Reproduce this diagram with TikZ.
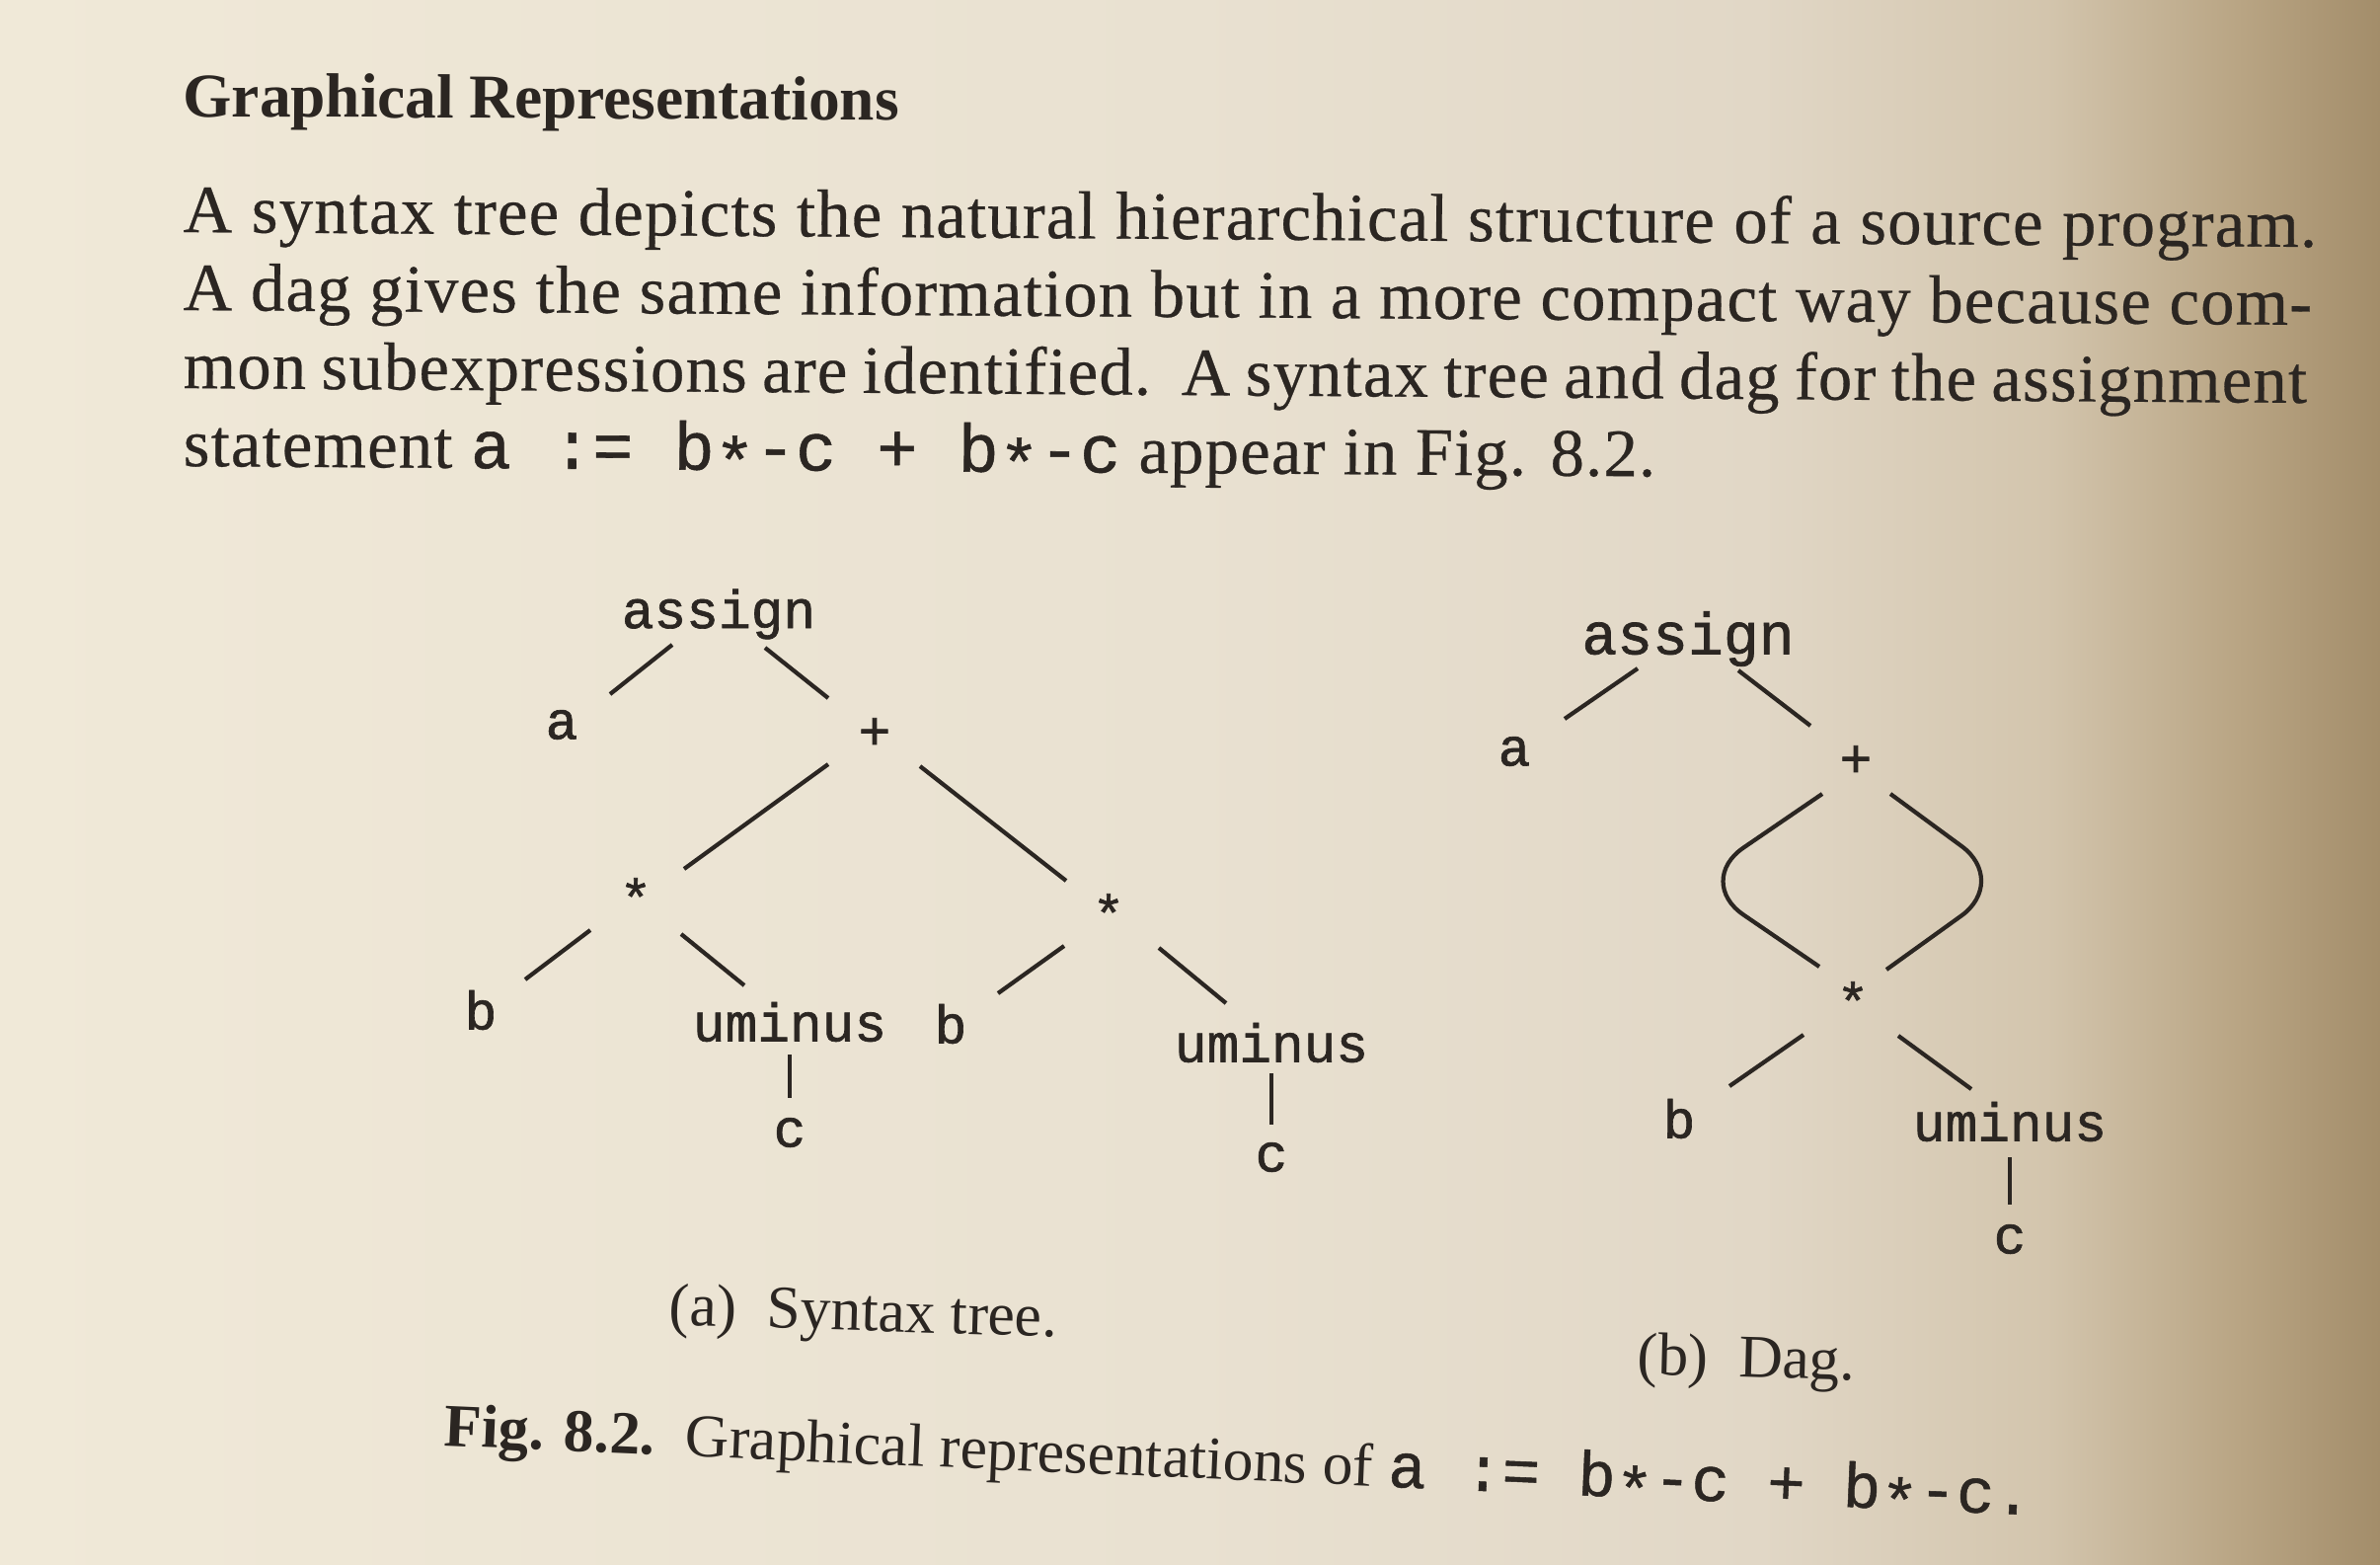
\documentclass[tikz,border=0pt]{standalone}
\usepackage{fontspec}
\setmainfont{Liberation Serif}
\setmonofont{Liberation Mono}[FakeBold=0.6]
\newfontfamily\bodyfont{Liberation Serif}[LetterSpace=1.8, FakeBold=0.4]
\newfontfamily\bodymono{Liberation Mono}[FakeBold=0.8]
\newfontfamily\treefont{Liberation Mono}[FakeBold=1.2]
\usetikzlibrary{calc}
\newcommand{\midstar}{\raisebox{-0.22em}{*}}
\definecolor{inkc}{HTML}{2B2622}
\definecolor{pagelight}{HTML}{F0E9D8}
\definecolor{pagemid}{HTML}{E9E1D1}
\definecolor{pagegrey}{HTML}{E1D7C6}
\definecolor{pagetan}{HTML}{D3C5AD}
\definecolor{pagebrown}{HTML}{B9A584}
\definecolor{pageedge}{HTML}{A38D6A}
\pgfdeclarehorizontalshading{pagetone}{100bp}{color(0bp)=(pagelight); color(25bp)=(pagelight);
  color(50bp)=(pagemid); color(62bp)=(pagegrey); color(68bp)=(pagetan);
  color(72bp)=(pagebrown); color(75bp)=(pageedge); color(100bp)=(pageedge)}
\tikzset{
  headtext/.style={font=\fontsize{18}{21}\selectfont\bfseries, anchor=base west},
  bodytext/.style={font=\bodyfont\fontsize{19.5}{23}\selectfont, anchor=base west},
  captext/.style={font=\fontsize{17.5}{21}\selectfont, anchor=base west},
  tlabel/.style={font=\treefont\fontsize{15.5}{18}\selectfont},
  edge/.style={draw=inkc, line width=1.2pt},
}

\begin{document}
\begin{tikzpicture}[x=0.01cm, y=-0.01cm, every node/.style={text=inkc, inner sep=0pt}]
  \useasboundingbox (0,0) rectangle (2411,1584);
  \shade[shading=pagetone] (0,0) rectangle (2411,1584);

  %% Heading and paragraph
  \node[headtext, rotate=-0.3] (head) at (185,118) {Graphical Representations};
  \node[bodytext, rotate=-0.4] (line1) at (185,235)
    {\makebox[21.6cm][s]{A syntax tree depicts the natural hierarchical structure of a source program.}};
  \node[bodytext, rotate=-0.4] (line2) at (185,314)
    {\makebox[21.55cm][s]{A dag gives the same information but in a more compact way because com-}};
  \node[bodytext, rotate=-0.4] (line3) at (185,393)
    {\makebox[21.5cm][s]{mon subexpressions are identified.\ \ A syntax tree and dag for the assignment}};
  \node[bodytext, rotate=-0.4] (line4) at (185,472)
    {statement {\bodymono a :=~b\midstar-c + b\midstar-c} appear in Fig. 8.2.};

  %% (a) Syntax tree
  \node[tlabel] (aroot)  at (728,622)  {assign};
  \node[tlabel] (aleaf)  at (569,734)  {a};
  \node[tlabel] (aplus)  at (886,743)  {+};
  \node[tlabel] (astarl) at (644,909)  {*};
  \node[tlabel] (astarr) at (1123,925) {*};
  \node[tlabel] (abl)    at (487,1023) {b};
  \node[tlabel] (auml)   at (800,1035) {uminus};
  \node[tlabel] (abr)    at (963,1037) {b};
  \node[tlabel] (aumr)   at (1288,1056) {uminus};
  \node[tlabel] (acl)    at (800,1147) {c};
  \node[tlabel] (acr)    at (1288,1172) {c};

  \draw[edge] ($(aroot)+(-47,31)$)  -- ($(aleaf)+(49,-31)$);
  \draw[edge] ($(aroot)+(47,34)$)   -- ($(aplus)+(-47,-36)$);
  \draw[edge] ($(aplus)+(-47,31)$)  -- ($(astarl)+(49,-29)$);
  \draw[edge] ($(aplus)+(46,33)$)   -- ($(astarr)+(-43,-33)$);
  \draw[edge] ($(astarl)+(-46,33)$) -- ($(abl)+(45,-31)$);
  \draw[edge] ($(astarl)+(46,37)$)  -- ($(auml)+(-46,-37)$);
  \draw[edge] ($(astarr)+(-45,33)$) -- ($(abr)+(48,-31)$);
  \draw[edge] ($(astarr)+(51,35)$)  -- ($(aumr)+(-46,-40)$);
  \draw[edge] ($(auml)+(0,33)$)     -- ($(acl)+(0,-35)$);
  \draw[edge] ($(aumr)+(0,31)$)     -- ($(acr)+(0,-33)$);

  %% (b) Dag
  \node[tlabel, font=\treefont\fontsize{17}{20}\selectfont] (droot) at (1710,647) {assign};
  \node[tlabel] (dleaf) at (1534,761)  {a};
  \node[tlabel] (dplus) at (1880,771)  {+};
  \node[tlabel] (dstar) at (1877,1014) {*};
  \node[tlabel] (db)    at (1701,1133) {b};
  \node[tlabel] (dum)   at (2036,1136) {uminus};
  \node[tlabel] (dc)    at (2036,1255) {c};

  \draw[edge] ($(droot)+(-51,30)$) -- ($(dleaf)+(51,-33)$);
  \draw[edge] ($(droot)+(51,32)$)  -- ($(dplus)+(-46,-36)$);
  \draw[edge, rounded corners=0.6cm] ($(dplus)+(-34,33)$)
    -- ($(dplus)!0.5!(dstar)+(-162,0)$) -- ($(dstar)+(-34,-35)$);
  \draw[edge, rounded corners=0.6cm] ($(dplus)+(35,33)$)
    -- ($(dplus)!0.5!(dstar)+(157,0)$) -- ($(dstar)+(34,-32)$);
  \draw[edge] ($(dstar)+(-50,34)$) -- ($(db)+(51,-33)$);
  \draw[edge] ($(dstar)+(46,35)$)  -- ($(dum)+(-39,-33)$);
  \draw[edge] ($(dum)+(0,36)$)     -- ($(dc)+(0,-35)$);

  %% Captions
  \node[captext, rotate=-1.7] (capa) at (677,1342) {(a)\ \ Syntax tree.};
  \node[captext, rotate=-1.5] (capb) at (1658,1392) {(b)\ \ Dag.};
  \node[captext, rotate=-2.5] (figcap) at (449,1464)
    {\textbf{Fig. 8.2.}\ \ Graphical representations of
     {\bodymono\fontsize{18.2}{21}\selectfont a :=~b\midstar-c + b\midstar-c.}};
\end{tikzpicture}
\end{document}
